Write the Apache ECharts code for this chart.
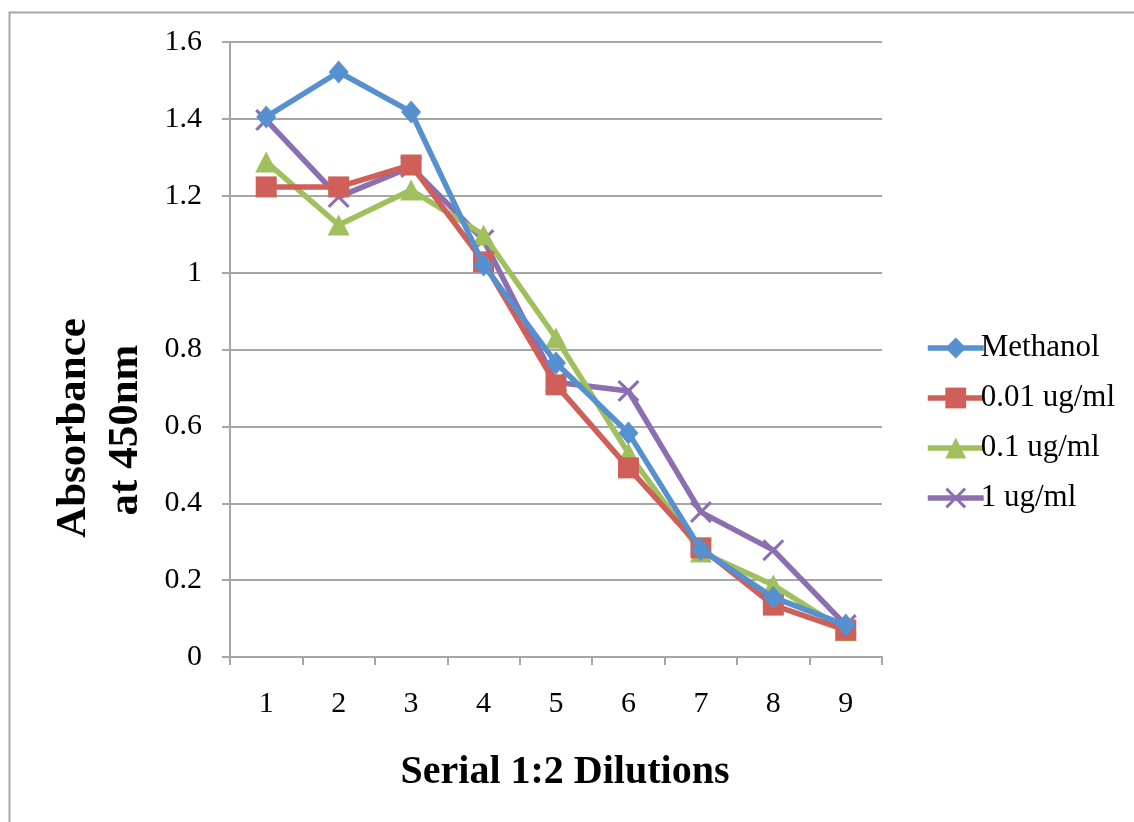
<!DOCTYPE html>
<html>
<head>
<meta charset="utf-8">
<script src="https://cdn.jsdelivr.net/npm/echarts@6/dist/echarts.min.js"></script>
<style>
html,body{margin:0;padding:0;background:#fff;}
#c{width:1134px;height:822px;}
</style>
</head>
<body>
<div id="c"></div>
<script>
const categories = ['1','2','3','4','5','6','7','8','9'];
const methanol = [1.405, 1.522, 1.418, 1.02, 0.765, 0.583, 0.28, 0.155, 0.083];
const c001 = [1.223, 1.223, 1.28, 1.028, 0.708, 0.492, 0.284, 0.135, 0.07];
const c01 = [1.288, 1.124, 1.215, 1.098, 0.83, 0.53, 0.273, 0.187, 0.068];
const c1 = [1.397, 1.197, 1.275, 1.085, 0.715, 0.692, 0.377, 0.278, 0.083];
const seriesNames = ['Methanol', '0.01 ug/ml', '0.1 ug/ml', '1 ug/ml'];
const xTitle = 'Serial 1:2 Dilutions';
const yTitleLines = ['Absorbance', 'at 450nm'];
const colors = ['#5690CE', '#CF5F59', '#A0C05E', '#8C6FB0'];

const crossPath = 'path://M0,2 L2,0 L10,8 L18,0 L20,2 L12,10 L20,18 L18,20 L10,12 L2,20 L0,18 L8,10 Z';
const symbols = ['diamond', 'rect', 'triangle', crossPath];
const sizes = [[20, 23], [21, 21], [22, 21], [22, 22]];
const datas = [methanol, c001, c01, c1];

const font = '"Liberation Serif", "Times New Roman", serif';
const grey = '#A6A6A6';

const chart = echarts.init(document.getElementById('c'));
chart.setOption({
  animation: false,
  color: colors,
  textStyle: { fontFamily: font, color: '#000' },
  graphic: [{
    type: 'rect', left: 7, top: 10, silent: true,
    shape: { width: 1300, height: 1000 },
    style: { fill: 'none', stroke: grey, lineWidth: 2 }
  }, {
    type: 'text', x: 565, y: 773, silent: true,
    style: { text: xTitle, font: 'bold 40px ' + font, fill: '#000', textAlign: 'center', textVerticalAlign: 'middle' }
  }, {
    type: 'text', x: 74, y: 428, rotation: Math.PI / 2, silent: true,
    style: { text: yTitleLines[0], font: 'bold 43px ' + font, fill: '#000', textAlign: 'center', textVerticalAlign: 'middle' }
  }, {
    type: 'text', x: 126, y: 430, rotation: Math.PI / 2, silent: true,
    style: { text: yTitleLines[1], font: 'bold 43px ' + font, fill: '#000', textAlign: 'center', textVerticalAlign: 'middle' }
  }],
  grid: { left: 230, right: 252, top: 42, bottom: 165 },
  legend: {
    orient: 'vertical', left: 920, top: 327,
    itemWidth: 56, itemHeight: 26, itemGap: 18,
    lineStyle: { width: 5.5 },
    textStyle: { fontFamily: font, fontSize: 31, color: '#000', lineHeight: 32, padding: [0, 0, 0, -8] },
    data: seriesNames
  },
  xAxis: {
    type: 'category', data: categories, boundaryGap: true,
    axisLine: { lineStyle: { color: grey, width: 2 } },
    axisTick: { show: true, length: 8, lineStyle: { color: grey, width: 2 } },
    axisLabel: { fontFamily: font, fontSize: 30, color: '#000', margin: 32 },
    splitLine: { show: false }
  },
  yAxis: {
    type: 'value', min: 0, max: 1.6, interval: 0.2,
    axisLine: { show: true, lineStyle: { color: grey, width: 2 } },
    axisTick: { show: true, length: 8, lineStyle: { color: grey, width: 2 } },
    axisLabel: { fontFamily: font, fontSize: 30, color: '#000', margin: 28,
      formatter: v => String(Math.round(v * 10) / 10) },
    splitLine: { lineStyle: { color: grey, width: 2 } }
  },
  series: seriesNames.map((n, i) => ({
    name: n, type: 'line', data: datas[i],
    symbol: symbols[i], symbolSize: sizes[i], showAllSymbol: true,
    lineStyle: { width: 5.5, color: colors[i] },
    itemStyle: { color: colors[i] },
    z: 10 - i
  }))
});
</script>
</body>
</html>
